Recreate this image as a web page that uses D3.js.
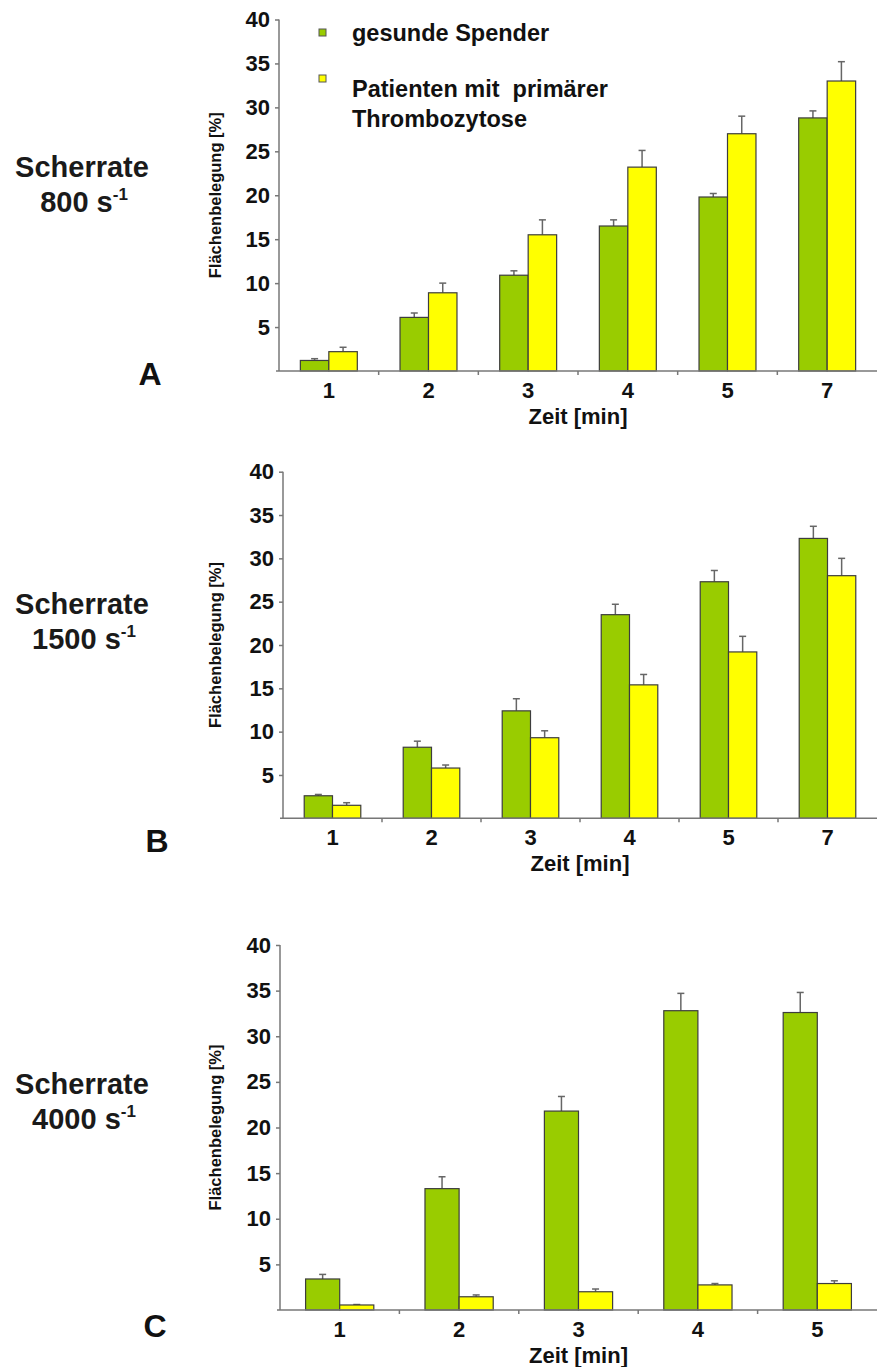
<!DOCTYPE html>
<html>
<head>
<meta charset="utf-8">
<script src="https://cdn.jsdelivr.net/npm/d3@7"></script>
<style>
  body { margin: 0; background: #fff; }
  svg { display: block; font-family: "Liberation Sans", Arial, sans-serif; font-weight: bold; }
</style>
</head>
<body>
<script>
// Scherrate 800 s-1 (A)
const minutesA = ["1", "2", "3", "4", "5", "7"]
const gesundA = [1.2, 6.1, 10.9, 16.5, 19.8, 28.8]
const gesundErrA = [0.2, 0.5, 0.5, 0.7, 0.4, 0.8]
const patientA = [2.2, 8.9, 15.5, 23.2, 27.0, 33.0]
const patientErrA = [0.5, 1.1, 1.7, 1.9, 2.0, 2.2]

// Scherrate 1500 s-1 (B)
const minutesB = ["1", "2", "3", "4", "5", "7"]
const gesundB = [2.6, 8.2, 12.4, 23.5, 27.3, 32.3]
const gesundErrB = [0.15, 0.7, 1.4, 1.2, 1.3, 1.4]
const patientB = [1.5, 5.8, 9.3, 15.4, 19.2, 28.0]
const patientErrB = [0.3, 0.35, 0.8, 1.2, 1.8, 2.0]

// Scherrate 4000 s-1 (C)
const minutesC = ["1", "2", "3", "4", "5"]
const gesundC = [3.4, 13.3, 21.8, 32.8, 32.6]
const gesundErrC = [0.5, 1.3, 1.6, 1.9, 2.2]
const patientC = [0.55, 1.45, 2.0, 2.75, 2.9]
const patientErrC = [0.05, 0.2, 0.3, 0.15, 0.3]

const yTicks = [5, 10, 15, 20, 25, 30, 35, 40]
const colors = {g: "#99cc00", p: "#ffff00"}

const width = 877
const height = 1367
const tickFont = "22px"

const svg = d3.select("body").append("svg")
    .attr("width", width)
    .attr("height", height)

const panels = [
    {letter: "A", rate: "800", minutes: minutesA, g: gesundA, gE: gesundErrA, p: patientA, pE: patientErrA,
     left: 279, top: 19.5, bottom: 371, labelY: 177, letterX: 150, letterY: 385},
    {letter: "B", rate: "1500", minutes: minutesB, g: gesundB, gE: gesundErrB, p: patientB, pE: patientErrB,
     left: 283, top: 471.7, bottom: 818.3, labelY: 614, letterX: 157, letterY: 852},
    {letter: "C", rate: "4000", minutes: minutesC, g: gesundC, gE: gesundErrC, p: patientC, pE: patientErrC,
     left: 280, top: 945, bottom: 1310, labelY: 1094, letterX: 155, letterY: 1337}
]

const drawPanel = (cfg) => {
    const y = d3.scaleLinear().domain([0, 40]).range([cfg.bottom, cfg.top])
    const x0 = d3.scaleBand().domain(cfg.minutes).range([cfg.left, width]).padding(0)
    const x1 = d3.scaleBand().domain(["g", "p"]).range([0, x0.bandwidth()])
        .paddingInner(0).paddingOuter(0.75)

    const rows = cfg.minutes.map((m, i) => [
        {m: m, key: "g", v: cfg.g[i], e: cfg.gE[i]},
        {m: m, key: "p", v: cfg.p[i], e: cfg.pE[i]}
    ]).flat()

    const g = svg.append("g").attr("class", "panel-" + cfg.letter)

    // error bars (drawn first, the bar covers the lower part)
    const err = g.append("g").attr("class", "errors")
        .selectAll("g")
        .data(rows)
        .enter()
        .append("g")
        .attr("transform", d => "translate(" + (x0(d.m) + x1(d.key) + x1.bandwidth() / 2) + ",0)")
    err.append("line")
        .attr("y1", d => y(d.v))
        .attr("y2", d => y(d.v + d.e))
        .attr("stroke", "#666")
        .attr("stroke-width", 1.5)
    err.append("line")
        .attr("x1", -3.5).attr("x2", 3.5)
        .attr("y1", d => y(d.v + d.e))
        .attr("y2", d => y(d.v + d.e))
        .attr("stroke", "#666")
        .attr("stroke-width", 1.5)

    g.append("g").attr("class", "bars")
        .selectAll("rect")
        .data(rows)
        .enter()
        .append("rect")
        .attr("x", d => x0(d.m) + x1(d.key))
        .attr("y", d => y(d.v))
        .attr("width", x1.bandwidth())
        .attr("height", d => y(0) - y(d.v))
        .attr("fill", d => colors[d.key])
        .attr("stroke", "#3d3d3d")
        .attr("stroke-width", 1.2)

    // y axis
    const yAxis = g.append("g")
        .attr("transform", "translate(" + cfg.left + ",0)")
        .call(d3.axisLeft(y).tickValues(yTicks).tickSize(4).tickPadding(5).tickSizeOuter(0))
    yAxis.select(".domain").attr("stroke", "#777").attr("stroke-width", 1.5)
        .attr("d", "M0," + y(0) + "V" + y(40))
    yAxis.selectAll(".tick line").attr("stroke", "#777").attr("stroke-width", 1.5)
    yAxis.selectAll(".tick text")
        .attr("fill", "#111")
        .style("font-size", tickFont)
        .style("font-weight", "bold")
        .style("font-family", "'Liberation Sans', Arial, sans-serif")

    // x axis
    const xAxis = g.append("g")
        .attr("transform", "translate(0," + cfg.bottom + ")")
        .call(d3.axisBottom(x0).tickSize(0).tickPadding(11).tickSizeOuter(0))
    xAxis.select(".domain").attr("stroke", "#777").attr("stroke-width", 1.5)
        .attr("d", "M" + (cfg.left - 3) + ",0H" + width)
    xAxis.selectAll(".tick text")
        .attr("fill", "#111")
        .style("font-size", tickFont)
        .style("font-weight", "bold")
        .style("font-family", "'Liberation Sans', Arial, sans-serif")
    xAxis.append("g")
        .selectAll("line")
        .data(cfg.minutes.slice(1))
        .enter()
        .append("line")
        .attr("x1", d => x0(d)).attr("x2", d => x0(d))
        .attr("y1", 0).attr("y2", 4)
        .attr("stroke", "#777")
        .attr("stroke-width", 1.5)

    // axis titles
    g.append("text")
        .attr("x", (cfg.left + width) / 2)
        .attr("y", cfg.bottom + 53)
        .attr("text-anchor", "middle")
        .style("font-size", "22px")
        .attr("fill", "#111")
        .text("Zeit [min]")

    g.append("text")
        .attr("transform", "translate(221," + (cfg.top + cfg.bottom) / 2 + ") rotate(-90)")
        .attr("text-anchor", "middle")
        .style("font-size", "16.5px")
        .attr("fill", "#111")
        .text("Flächenbelegung [%]")

    // shear-rate label
    g.append("text")
        .attr("x", 82)
        .attr("y", cfg.labelY)
        .attr("text-anchor", "middle")
        .style("font-size", "29px")
        .attr("fill", "#1a1a1a")
        .text("Scherrate")
    const rate = g.append("text")
        .attr("x", 84)
        .attr("y", cfg.labelY + 35)
        .attr("text-anchor", "middle")
        .style("font-size", "29px")
        .attr("fill", "#1a1a1a")
    rate.append("tspan").text(cfg.rate + " s")
    rate.append("tspan").attr("dy", -12).style("font-size", "17px").text("-1")

    g.append("text")
        .attr("x", cfg.letterX)
        .attr("y", cfg.letterY)
        .attr("text-anchor", "middle")
        .style("font-size", "32px")
        .attr("fill", "#111")
        .text(cfg.letter)
}

panels.forEach(drawPanel)

// legend (panel A)
const legend = svg.append("g").attr("class", "legend")
const legendRows = [
    {key: "g", lines: ["gesunde Spender"], sq: 29, ty: 41},
    {key: "p", lines: ["Patienten mit  primärer", "Thrombozytose"], sq: 75, ty: 97}
]
legend.selectAll("rect")
    .data(legendRows)
    .enter()
    .append("rect")
    .attr("x", 319)
    .attr("y", d => d.sq)
    .attr("width", 7)
    .attr("height", 7)
    .attr("fill", d => colors[d.key])
    .attr("stroke", "#555")
    .attr("stroke-width", 1)
legend.selectAll("text")
    .data(legendRows)
    .enter()
    .append("text")
    .attr("x", 352)
    .attr("y", d => d.ty)
    .style("font-size", "23.5px")
    .style("white-space", "pre")
    .attr("fill", "#111")
    .each(function (d) {
        d.lines.forEach((l, i) => {
            d3.select(this).append("tspan")
                .attr("x", 352)
                .attr("dy", i === 0 ? 0 : 30)
                .text(l)
        })
    })
</script>
</body>
</html>
